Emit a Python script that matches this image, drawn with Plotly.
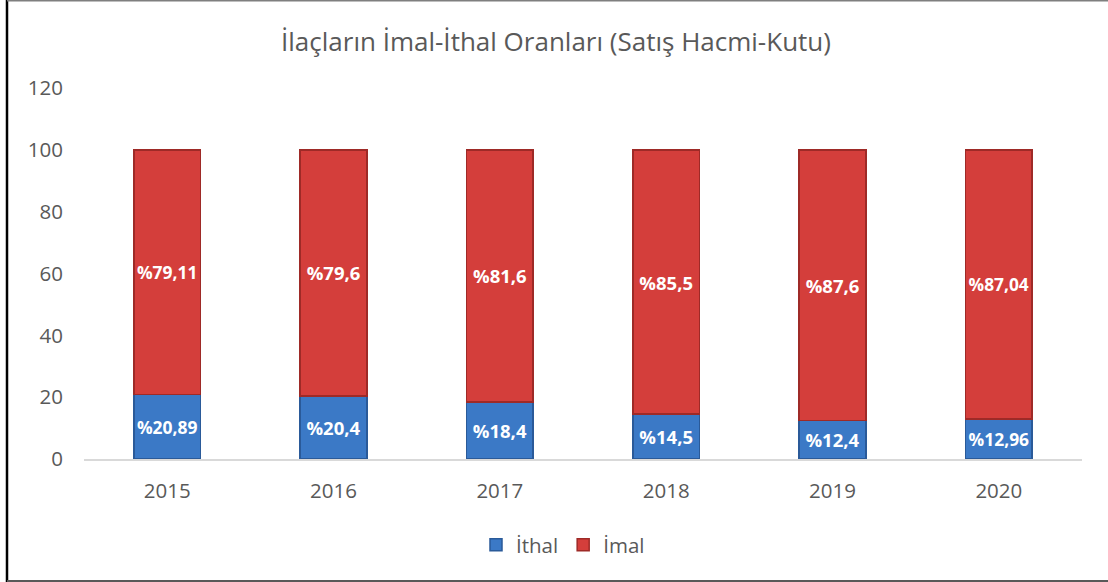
import plotly.graph_objects as go

years = ["2015", "2016", "2017", "2018", "2019", "2020"]
ithal = [20.89, 20.4, 18.4, 14.5, 12.4, 12.96]
imal = [79.11, 79.6, 81.6, 85.5, 87.6, 87.04]
ithal_labels = ["%20,89", "%20,4", "%18,4", "%14,5", "%12,4", "%12,96"]
imal_labels = ["%79,11", "%79,6", "%81,6", "%85,5", "%87,6", "%87,04"]
title = "İlaçların İmal-İthal Oranları (Satış Hacmi-Kutu)"

FONT = "Open Sans"
fig = go.Figure()
fig.add_trace(go.Bar(
    x=years, y=ithal, name="İthal", text=ithal_labels,
    marker=dict(color="#3B79C6", line=dict(color="#2A5A99", width=1.5)),
    textposition="inside", insidetextanchor="middle", textangle=0,
    textfont=dict(color="white", size=18.5, family=FONT, weight="bold"),
    width=0.4,
))
fig.add_trace(go.Bar(
    x=years, y=imal, name="İmal", text=imal_labels,
    marker=dict(color="#D43E3B", line=dict(color="#9E2A27", width=1.5)),
    textposition="inside", insidetextanchor="middle", textangle=0,
    textfont=dict(color="white", size=18.5, family=FONT, weight="bold"),
    width=0.4,
))

L, R, T, B = 84, 26, 88, 123
W, H = 1108, 582
pw, ph = W - L - R, H - T - B

def px(x):
    return (x - L) / pw

def py(y):
    return (H - B - y) / ph

fig.update_layout(
    barmode="stack",
    width=W, height=H,
    margin=dict(l=L, r=R, t=T, b=B, autoexpand=False),
    paper_bgcolor="white", plot_bgcolor="white",
    font=dict(family=FONT, color="#595959"),
    title=dict(text=title, xref="container", x=556 / W, xanchor="center",
               yref="container", y=1 - 42 / H, yanchor="middle",
               font=dict(size=26, color="#595959", family=FONT)),
    showlegend=True,
    legend=dict(orientation="h", x=px(563), xanchor="center", y=py(545), yanchor="middle",
                font=dict(size=20.5, color="#595959", family=FONT), traceorder="normal"),
    bargap=0.6,
    xaxis=dict(showgrid=False, showline=True, linecolor="#D9D9D9", linewidth=2,
               tickfont=dict(size=20.5, color="#595959"), ticks="", ticklabelstandoff=12),
    yaxis=dict(range=[0, 120], dtick=20, showgrid=False, zeroline=False, showline=False,
               tickfont=dict(size=20.5, color="#595959"), ticks="", ticklabelstandoff=20),
    shapes=[
        dict(type="line", xref="paper", yref="paper", x0=px(7), x1=px(7), y0=py(0), y1=py(582),
             line=dict(color="black", width=2.5)),
        dict(type="line", xref="paper", yref="paper", x0=px(7), x1=px(1110), y0=py(0.8), y1=py(0.8),
             line=dict(color="#7F7F7F", width=1.6)),
        dict(type="line", xref="paper", yref="paper", x0=px(7), x1=px(1110), y0=py(581), y1=py(581),
             line=dict(color="#595959", width=2)),
    ],
)

fig.write_html("out.html", config={"displayModeBar": False},
               post_script="document.body.style.margin='0';document.body.style.overflow='hidden';")
